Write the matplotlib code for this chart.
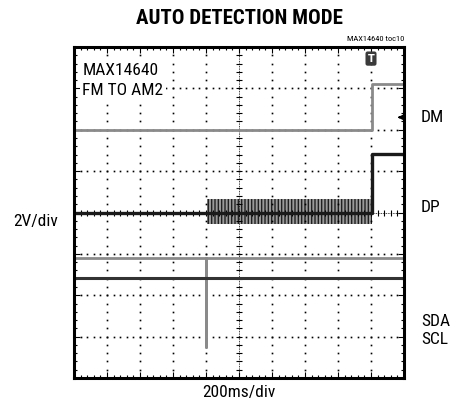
import numpy as np
import matplotlib
matplotlib.use("Agg")
import matplotlib.pyplot as plt

# 数据 (单位: 格 div; x: 200ms/div, y: 2V/div, 中心线为 0)
dm_t = [0, 9.03, 9.03, 10]
dm_v = [2.0, 2.0, 3.1, 3.1]

dp_t = [0, 9.03, 9.03, 10]
dp_v = [0.0, 0.0, 1.41, 1.41]

# DP 上的振荡段 (包络)
burst_t = [4.03, 9.03]
burst_lo = [-0.28, -0.28]
burst_hi = [0.33, 0.33]

sda_t = [0, 4.0, 4.0, 4.0, 10]
sda_v = [-1.1, -1.1, -3.26, -1.1, -1.1]

scl_t = [0, 10]
scl_v = [-1.58, -1.58]

trig_t = 9.0
dm_marker = 2.3

GRAY = "#8a8a8a"
NARROW = ["Liberation Sans Narrow", "DejaVu Sans Condensed", "Roboto Condensed", "Roboto", "DejaVu Sans"]

fig = plt.figure(figsize=(4.53, 4.13), dpi=100)
ax = fig.add_axes([74 / 453, 35 / 413, 330 / 453, 331 / 413])
ax.set_xlim(0, 10)
ax.set_ylim(-4, 4)

# ---- 网格 (点状) ----
fine = np.arange(0, 10.01, 0.2)
fine_y = np.arange(-4, 4.01, 0.2)
for gx in range(1, 10):
    if gx == 5:
        continue
    ax.plot(np.full_like(fine_y, gx), fine_y, ls="none", marker="s", ms=1.2, color="black", mew=0)
for gy in range(-3, 4):
    if gy == 0:
        continue
    ax.plot(fine, np.full_like(fine, gy), ls="none", marker="s", ms=1.2, color="black", mew=0)

# 中心十字线
ax.plot([5, 5], [-4, 4], color="black", lw=0.6, ls=(0, (1, 1)))
ax.plot([0, 10], [0, 0], color="black", lw=0.6, ls=(0, (1, 1)))
ax.plot(np.full_like(fine_y, 5), fine_y, ls="none", marker="_", ms=5, mew=0.8, color="black")
ax.plot(fine, np.zeros_like(fine), ls="none", marker="|", ms=5, mew=0.8, color="black")

# ---- 波形 ----
ax.plot(dm_t, dm_v, color=GRAY, lw=2.0)
ax.fill_between(burst_t, burst_lo, burst_hi, facecolor="#9a9a9a", edgecolor="#202020",
                hatch="|||||", lw=0)
ax.plot(dp_t, dp_v, color="#1a1a1a", lw=2.4)
ax.plot(sda_t, sda_v, color=GRAY, lw=2.0)
ax.plot(scl_t, scl_v, color="#333333", lw=2.2)

# 触发标记
ax.text(trig_t, 3.72, "T", color="white", fontsize=7, ha="center", va="center",
        fontweight="bold",
        bbox=dict(boxstyle="round,pad=0.22", fc="#3a3a3a", ec="none"))
ax.annotate("", xy=(9.72, dm_marker), xytext=(9.97, dm_marker),
            arrowprops=dict(arrowstyle="-|>", color="black", lw=1.3, mutation_scale=9))

# ---- 边框与刻度 ----
for s in ax.spines.values():
    s.set_linewidth(2.2)
ax.set_xticks(range(0, 11))
ax.set_yticks(range(-4, 5))
ax.set_xticks(fine, minor=True)
ax.set_yticks(fine_y, minor=True)
ax.tick_params(which="both", direction="in", top=True, right=True,
               labelbottom=False, labelleft=False)
ax.tick_params(which="major", length=4, width=0.8)
ax.tick_params(which="minor", length=2.5, width=0.8)

# ---- 文字 ----
fig.text(239 / 453, 1 - 18 / 413, "AUTO DETECTION MODE", ha="center", va="center",
         fontsize=15, fontweight="heavy", family=NARROW)
fig.text(404 / 453, 1 - 39 / 413, "MAX14640 toc10", ha="right", va="center",
         fontsize=6, family=NARROW)
ax.text(0.25, 3.62, "MAX14640\nFM TO AM2", ha="left", va="top", fontsize=12.5,
        family=NARROW, linespacing=1.4, zorder=5,
        bbox=dict(boxstyle="square,pad=0.15", fc="white", ec="none"))
fig.text(421 / 453, 1 - 118 / 413, "DM", ha="left", va="center", fontsize=12.5, family=NARROW)
fig.text(421 / 453, 1 - 207 / 413, "DP", ha="left", va="center", fontsize=12.5, family=NARROW)
fig.text(421 / 453, 1 - 321 / 413, "SDA", ha="left", va="center", fontsize=12.5, family=NARROW)
fig.text(421 / 453, 1 - 339 / 413, "SCL", ha="left", va="center", fontsize=12.5, family=NARROW)
fig.text(36 / 453, 1 - 222 / 413, "2V/div", ha="center", va="center", fontsize=12.5, family=NARROW)
fig.text(239 / 453, 1 - 393 / 413, "200ms/div", ha="center", va="center", fontsize=12.5, family=NARROW)

fig.savefig("out.png", dpi=100)
